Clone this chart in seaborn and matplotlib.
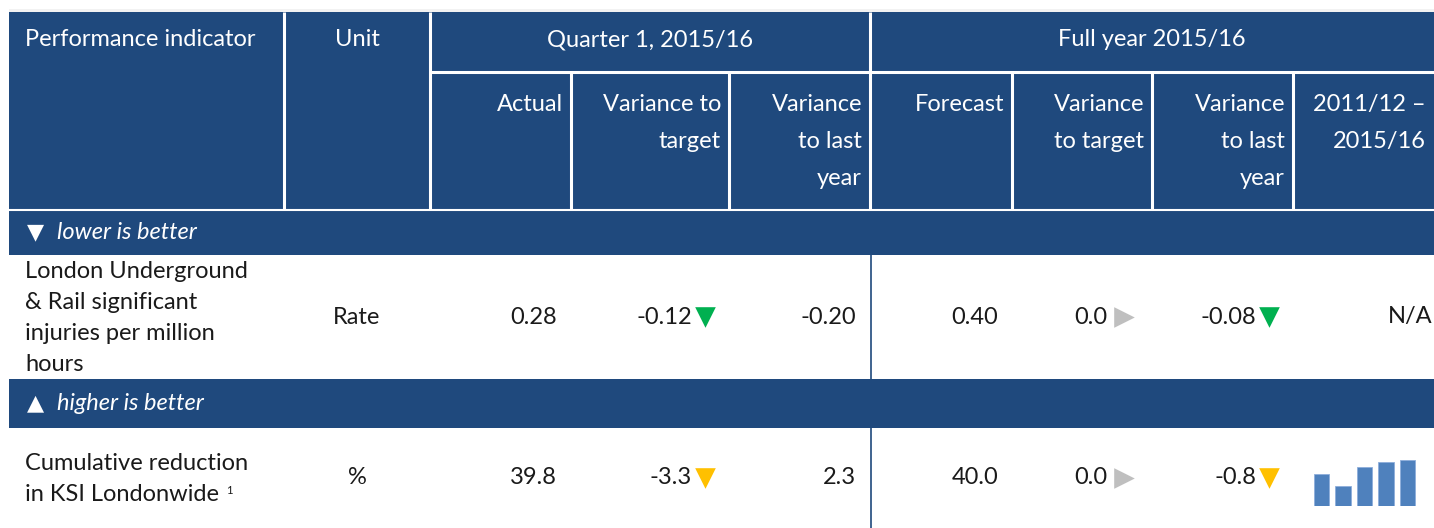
import matplotlib
matplotlib.use("Agg")
import matplotlib.pyplot as plt
import seaborn as sns
import pandas as pd
from matplotlib.patches import Rectangle

sns.set_theme(style="white")
plt.rcParams['font.family'] = ['Lato', 'DejaVu Sans']

# ---- data ----
group_headers = ["Quarter 1, 2015/16", "Full year 2015/16"]
sub_headers = ["Actual", "Variance to\ntarget", "Variance\nto last\nyear",
               "Forecast", "Variance\nto target", "Variance\nto last\nyear",
               "2011/12 \u2013\n2015/16"]
bands = ["lower is better", "higher is better"]
band_icons = ["\u25bc", "\u25b2"]
indicators = ["London Underground\n& Rail significant\ninjuries per million\nhours",
              "Cumulative reduction\nin KSI Londonwide"]
footnotes = ["", "1"]
units = ["Rate", "%"]
q1_actual = ["0.28", "39.8"]
q1_var_target = ["-0.12", "-3.3"]
q1_var_target_status = ["good", "warn"]
q1_var_last_year = ["-0.20", "2.3"]
fy_forecast = ["0.40", "40.0"]
fy_var_target = ["0.0", "0.0"]
fy_var_target_status = ["flat", "flat"]
fy_var_last_year = ["-0.08", "-0.8"]
fy_var_last_year_status = ["good", "warn"]
trend_years = ["2011/12", "2012/13", "2013/14", "2014/15", "2015/16"]
trend_ksi = [27.8, 17.4, 33.9, 38.3, 40.0]   # second row only

# ---- styling ----
W, H = 1434, 528
navy = "#1f497d"
ink = "#1a1a1a"
# marker, colour, marker offset from cell edge, gap before the number
status_style = {"good": ("v", "#00b050", 10, 13), "warn": ("v", "#ffc000", 10, 13),
                "flat": (">", "#bfbfbf", 14, 17)}
col_edges = [9, 284, 430, 571, 729, 870, 1012, 1152, 1293, 1434]
hdr_top, hdr_mid, hdr_bot = 12, 72, 209
band_rows = [(210, 255), (379, 428)]
data_rows = [(255, 379), (428, 528)]
fs = 17
line_pitch = 31

fig = plt.figure(figsize=(W / 100, H / 100), dpi=100)
ax = fig.add_axes([0, 0, 1, 1])
ax.set_xlim(0, W)
ax.set_ylim(H, 0)
ax.axis("off")

# light strip on top
ax.add_patch(Rectangle((9, 9), W - 9, 3, color="#f2f2f2", lw=0))

# header block
ax.add_patch(Rectangle((9, hdr_top), W - 9, hdr_bot - hdr_top, color=navy, lw=0))
for x in col_edges[1:-1]:
    top = hdr_top if x in (284, 430, 870) else hdr_mid
    ax.plot([x, x], [top, hdr_bot], color="white", lw=2.2, solid_capstyle="butt")
ax.plot([430, W], [hdr_mid, hdr_mid], color="white", lw=2.2)
ax.plot([9, W], [hdr_bot + 0.5, hdr_bot + 0.5], color="white", lw=1.5)

ax.text(25, 40, "Performance indicator", color="white", fontsize=fs, va="center")
ax.text((284 + 430) / 2, 40, "Unit", color="white", fontsize=fs,
        ha="center", va="center")
ax.text((430 + 870) / 2, 40, group_headers[0], color="white", fontsize=fs,
        ha="center", va="center")
ax.text((870 + W) / 2, 40, group_headers[1], color="white", fontsize=fs,
        ha="center", va="center")
for i, lab in enumerate(sub_headers):
    right = col_edges[i + 3] - 8
    ax.text(right, 94, lab, color="white", fontsize=fs, ha="right", va="top",
            linespacing=1.93)

# bands
for (y0, y1), icon, lab in zip(band_rows, band_icons, bands):
    ax.add_patch(Rectangle((9, y0), W - 9, y1 - y0, color=navy, lw=0))
    yc = (y0 + y1) / 2
    ax.text(27, yc, icon, color="white", fontsize=fs - 1, va="center",
            family=["DejaVu Sans"])
    ax.text(57, yc, lab, color="white", fontsize=fs, va="center", style="italic")

# divider between quarter and full year
for y0, y1 in data_rows:
    ax.plot([870.5, 870.5], [y0, y1], color=navy, lw=1.2)

# data rows
cols = [q1_actual, q1_var_target, q1_var_last_year, fy_forecast,
        fy_var_target, fy_var_last_year]
stats = [None, q1_var_target_status, None, None, fy_var_target_status,
         fy_var_last_year_status]
fig.canvas.draw()
renderer = fig.canvas.get_renderer()
for r, (y0, y1) in enumerate(data_rows):
    yc = (y0 + y1) / 2
    lines = indicators[r].split("\n")
    n = len(lines)
    for k, line in enumerate(lines):
        ly = yc + 1 + (k - (n - 1) / 2) * line_pitch
        t = ax.text(25, ly, line, color=ink, fontsize=fs, va="center")
    if footnotes[r]:
        # footnote mark sits after the last line
        bb = t.get_window_extent(renderer)
        ax.annotate(footnotes[r], xy=(bb.x1, bb.y1), xycoords="figure pixels",
                    xytext=(7, -6), textcoords="offset pixels",
                    fontsize=8, color=ink, va="center")
    ax.text((284 + 430) / 2, yc, units[r], color=ink, fontsize=fs,
            ha="center", va="center")
    for c, (vals, st) in enumerate(zip(cols, stats)):
        right = col_edges[c + 3] - 14
        if st is None:
            ax.text(right, yc, vals[r], color=ink, fontsize=fs,
                    ha="right", va="center")
        else:
            marker, color, off, gap = status_style[st[r]]
            mx = right - off
            ax.scatter([mx], [yc], marker=marker, s=220, color=color,
                       linewidths=0, zorder=3)
            ax.text(mx - gap, yc, vals[r], color=ink, fontsize=fs,
                    ha="right", va="center")
    if r == 0:
        ax.text(col_edges[-1] - 2, yc, "N/A", color=ink, fontsize=fs,
                ha="right", va="center")

# sparkline for second row
sx0, sx1, sy0, sy1 = 1310.75, 1418.25, 460, 506
spark = fig.add_axes([sx0 / W, 1 - sy1 / H, (sx1 - sx0) / W, (sy1 - sy0) / H])
df = pd.DataFrame({"year": trend_years, "ksi": trend_ksi})
sns.barplot(data=df, x="year", y="ksi", color="#4f81bd", saturation=1,
            width=0.7, edgecolor="#8eaedb", linewidth=0.6, ax=spark)
spark.set_xlim(-0.5, len(trend_years) - 0.5)
spark.set_ylim(0, max(trend_ksi))
spark.axis("off")

fig.savefig("out.png", dpi=100)
